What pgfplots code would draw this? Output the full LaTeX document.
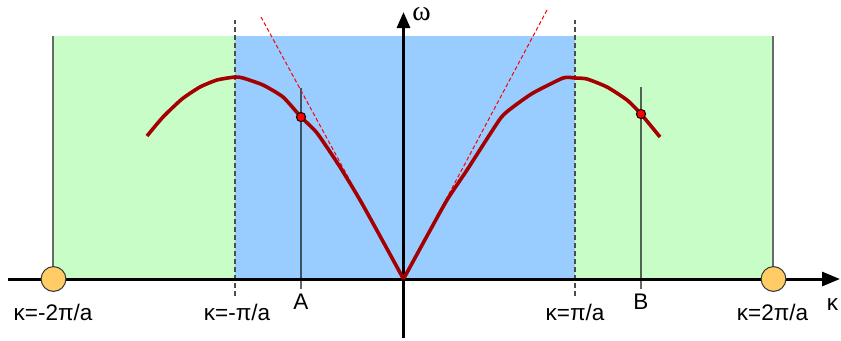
\documentclass[border=0pt]{standalone}
\usepackage{fontspec}
\setmainfont{Liberation Sans}
\newfontfamily\seriffont{Liberation Serif}
\usepackage{pgfplots}
\pgfplotsset{compat=1.18}
\usetikzlibrary{arrows.meta}

\definecolor{zonegreen}{RGB}{200,253,200}
\definecolor{zoneblue}{RGB}{153,204,255}
\definecolor{edgegray}{RGB}{105,105,105}
\definecolor{curvered}{RGB}{165,0,0}
\definecolor{dotred}{RGB}{255,0,0}
\definecolor{ballorange}{RGB}{255,204,102}

\begin{document}
\begin{tikzpicture}[lbl/.style={font=\fontsize{11.3}{13}\selectfont}]
\begin{axis}[
  hide axis,
  clip=false,
  x=0.5bp, y=0.5bp,
  xmin=-403.5, xmax=437.5,
  ymin=-61, ymax=279,
]
% Brillouin zones
\addplot [draw=none, fill=zonegreen] coordinates {(-351,0) (-351,243) (-168.5,243) (-168.5,0)} -- cycle;
\addplot [draw=none, fill=zoneblue] coordinates {(-168.5,0) (-168.5,243) (171.5,243) (171.5,0)} -- cycle;
\addplot [draw=none, fill=zonegreen] coordinates {(171.5,0) (171.5,243) (369.5,243) (369.5,0)} -- cycle;
\addplot [edgegray, line width=1bp] coordinates {(-351,0) (-351,243)};
\addplot [edgegray, line width=1bp] coordinates {(369.5,0) (369.5,243)};

% zone boundaries
\addplot [black!70, line width=0.8bp, dash pattern=on 2.5bp off 1.5bp] coordinates {(-168.5,-17) (-168.5,259)};
\addplot [black!70, line width=0.8bp, dash pattern=on 2.5bp off 1.5bp] coordinates {(171.5,-17) (171.5,259)};

% points A and B
\addplot [black, draw opacity=0.6, line width=0.9bp] coordinates {(-102.5,-10) (-102.5,191)};
\addplot [black, draw opacity=0.6, line width=0.9bp] coordinates {(237.5,-10) (237.5,192)};

% tangents at k=0
\addplot [dotred, line width=0.5bp, dash pattern=on 2bp off 1.2bp] coordinates {(0,0) (-142.5,262)};
\addplot [dotred, line width=0.5bp, dash pattern=on 2bp off 1.2bp] coordinates {(0,0) (143.5,269)};

% axes
\addplot [black, line width=1.5bp, -{Triangle[length=9bp,width=7bp]}] coordinates {(-395.5,0) (436.5,0)};
\addplot [black, line width=1.5bp, -{Triangle[length=8bp,width=6.5bp]}] coordinates {(0,-59) (0,267)};

% dispersion curve
\addplot [curvered, line width=1.8bp, line join=round, smooth, tension=0.35] coordinates {
(-256.5,143) (-240.5,162) (-221.5,180) (-203.5,192) (-186.5,199)
(-168.5,202) (-160.5,201) (-140.5,194) (-120.5,182) (-102.5,162)
(-86.5,146) (-63.5,112) (-43.5,79) (-23.5,43) (0,0)
};
\addplot [curvered, line width=1.8bp, line join=round, smooth, tension=0.35] coordinates {
(0,0) (23.5,43) (43.5,79) (63.5,109) (96.5,160) (109.5,172)
(129.5,186) (159.5,201) (171.5,201) (183.5,200) (203.5,192)
(223.5,179) (237.5,165) (256.5,142)
};

% marked points
\addplot [only marks, mark=*, mark size=2.3bp, mark options={fill=dotred, draw=black, line width=0.5bp}]
  coordinates {(-102.5,162) (237.5,165)};
\addplot [only marks, mark=*, mark size=6.2bp, mark options={fill=ballorange, draw=black!80, line width=0.5bp}]
  coordinates {(-350,0) (370,0)};

% labels
\node[lbl] at (axis cs:-350.5,-33) {κ=-2π/a};
\node[lbl] at (axis cs:-166.5,-33) {κ=-π/a};
\node[lbl] at (axis cs:-102.5,-23) {A};
\node[lbl] at (axis cs:171.5,-33) {κ=π/a};
\node[lbl] at (axis cs:237.5,-23) {B};
\node[lbl] at (axis cs:369,-33) {κ=2π/a};
\node[lbl] at (axis cs:429,-26) {κ};
\node at (axis cs:18,265) {\fontsize{14}{15}\selectfont\seriffont ω};

\coordinate (sw) at (axis cs:-403.5,-61);
\coordinate (ne) at (axis cs:437.5,279);
\end{axis}
\pgfresetboundingbox
\path[use as bounding box] (sw) rectangle (ne);
\end{tikzpicture}
\end{document}
